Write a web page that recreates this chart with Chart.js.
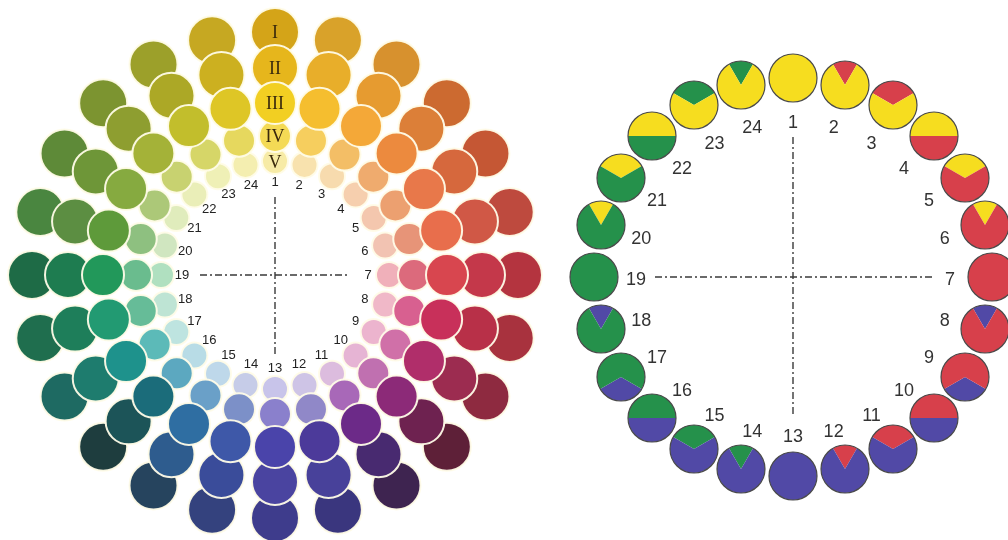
<!DOCTYPE html>
<html>
<head>
<meta charset="utf-8">
<script src="https://cdn.jsdelivr.net/npm/chart.js@4.4.1/dist/chart.umd.min.js"></script>
<style>
    body { margin: 0; background: #fff; overflow: hidden; }
    #stage { position: relative; width: 1008px; height: 540px; overflow: hidden; }
    #leftBox { position: absolute; left: 0; top: 0; width: 550px; height: 540px; }
    #rightBox { position: absolute; left: 550px; top: 0; width: 458px; height: 540px; }
    .mix { position: absolute; width: 52px; height: 52px; }
</style>
</head>
<body>
<div id="stage">
    <div id="leftBox"><canvas id="toneWheel"></canvas></div>
    <div id="rightBox"><canvas id="mixWheel"></canvas></div>
</div>
<script>
// ==========================================
// DATA
// ==========================================

const hueNumbers = [1, 2, 3, 4, 5, 6, 7, 8, 9, 10, 11, 12, 13, 14, 15, 16, 17, 18, 19, 20, 21, 22, 23, 24];
const toneRings = ['I', 'II', 'III', 'IV', 'V'];

// right wheel: base colour, wedge colour and wedge size (in sixths) per hue
const mixBase   = ['Y', 'Y', 'Y', 'R', 'R', 'R', 'R', 'R', 'R', 'B', 'B', 'B', 'B', 'B', 'B', 'B', 'G', 'G', 'G', 'G', 'G', 'G', 'Y', 'Y'];
const mixWedge  = ['Y', 'R', 'R', 'Y', 'Y', 'Y', 'R', 'B', 'B', 'R', 'R', 'R', 'B', 'G', 'G', 'G', 'B', 'B', 'G', 'Y', 'Y', 'Y', 'G', 'G'];
const mixSixths = [0, 1, 2, 3, 2, 1, 0, 1, 2, 3, 2, 1, 0, 1, 2, 3, 2, 1, 0, 1, 2, 3, 2, 1];
const wedgeAtBottom = [9, 17];

// ==========================================
// STYLE / LAYOUT
// ==========================================

const ringColors = [
    // I
    ['#D4A418', '#D9A22A', '#D7912E', '#CC6A30', '#C55734', '#BE4A3E', '#B4343F', '#A8323E', '#8E2A40', '#5E2038', '#3E2450', '#3A367E',
     '#3E3C8C', '#34427E', '#26445E', '#1E3D3E', '#1E6A62', '#1F6E4E', '#1E6B46', '#4A8640', '#5E8A38', '#7C9430', '#9CA02A', '#C6A822'],
    // II
    ['#E6B61C', '#E8AE2A', '#E69B30', '#DC7F38', '#D6683D', '#D05846', '#C4384A', '#B83048', '#9C2C50', '#6E2250', '#482A70', '#48419A',
     '#4A44A0', '#3A4C9A', '#2E5C8E', '#1C5458', '#1E7C6E', '#1E7E5A', '#1E7C50', '#5C8E42', '#6E9638', '#8E9E30', '#ACA826', '#CCB020'],
    // III
    ['#F2CF22', '#F5BE2F', '#F4A838', '#EC8A3E', '#E8784A', '#E86E4C', '#D8464F', '#C8305A', '#B02E6A', '#8C2A78', '#6C2A88', '#4C3A9A',
     '#4A44AA', '#3E58A8', '#2F6EA2', '#1B6C7A', '#1E928C', '#229A72', '#22985A', '#5E9A3A', '#86AA40', '#A4B238', '#C2BE2C', '#DEC626'],
    // IV
    ['#F4DA55', '#F6CE5E', '#F3BE66', '#EFAB6E', '#ECA070', '#E79478', '#DC6A7C', '#D86090', '#D070A8', '#C070B0', '#A868B8', '#9088C8',
     '#8A80CC', '#7C90C8', '#6AA0C8', '#5CA8C0', '#5CBAB8', '#66BC98', '#6ABC8E', '#8EC080', '#ACC878', '#C8D270', '#D6D668', '#E6D85E'],
    // V
    ['#F7EBA6', '#F8E2AE', '#F7DBAE', '#F6CFAE', '#F4C7AE', '#F2C3B2', '#F0B0BA', '#F0B8C8', '#ECB4CE', '#E6B4D4', '#DCBCDE', '#CEC4E6',
     '#C8C4EA', '#C6CCE8', '#BED8EA', '#B8DCE6', '#BEE4E0', '#BEE4D4', '#B0E0C0', '#D0E6C0', '#E0ECBC', '#EAEEB8', '#EFF0B6', '#F4EEB0']
];
const ringDistance = [243, 207, 172, 139, 114];
const ringRadius = [24, 23, 21, 16, 13];
const ringOrder = [3, 2, 1, 2, 3];   // III on top, I and V underneath

const mixColors = { Y: '#F6DD1F', R: '#D7404B', B: '#5149A6', G: '#25914B' };
const MIX_RING = 199;

Chart.defaults.animation = false;
Chart.defaults.events = [];

function hueAngle(i) {
    return i * 15 * Math.PI / 180;
}

// dash-dot cross as a line dataset
function crossLine(points) {
    return {
        type: 'line',
        data: points,
        borderColor: '#3a3a3a',
        borderWidth: 1.4,
        borderDash: [7, 3, 2, 3],
        pointRadius: 0,
        showLine: true,
        order: 0
    };
}

// numbers round the wheel, roman numerals down hue 1
const wheelText = {
    id: 'wheelText',
    afterDatasetsDraw(chart, args, opts) {
        const { ctx, scales: { x, y } } = chart;
        ctx.save();
        ctx.textAlign = 'center';
        ctx.textBaseline = 'middle';
        ctx.fillStyle = opts.color;
        ctx.font = opts.font;
        hueNumbers.forEach((n, i) => {
            const a = hueAngle(i);
            ctx.fillText(String(n),
                x.getPixelForValue(opts.radius * Math.sin(a)),
                y.getPixelForValue(opts.radius * Math.cos(a)) + opts.shift);
        });
        if (opts.roman) {
            ctx.fillStyle = '#3a2a0c';
            ctx.font = '18px "Liberation Serif", "DejaVu Serif", serif';
            toneRings.forEach((label, r) => {
                ctx.fillText(label, x.getPixelForValue(0), y.getPixelForValue(ringDistance[r]) + (r === 4 ? 2 : 1));
            });
        }
        ctx.restore();
    }
};

// ==========================================
// LEFT: tone wheel
// ==========================================

const toneDatasets = toneRings.map((ring, r) => ({
    label: ring,
    data: hueNumbers.map((h, i) => ({
        x: ringDistance[r] * Math.sin(hueAngle(i)),
        y: ringDistance[r] * Math.cos(hueAngle(i)),
        r: ringRadius[r]
    })),
    backgroundColor: ringColors[r],
    borderColor: 'rgba(255, 252, 232, 0.95)',
    borderWidth: 2,
    order: ringOrder[r]
}));

new Chart(document.getElementById('toneWheel'), {
    type: 'bubble',
    data: {
        datasets: toneDatasets.concat([
            crossLine([{ x: 0, y: 78 }, { x: 0, y: -80 }]),
            crossLine([{ x: -75, y: 0 }, { x: 75, y: 0 }])
        ])
    },
    options: {
        responsive: true,
        maintainAspectRatio: false,
        layout: { padding: 0, autoPadding: false },
        scales: {
            x: { type: 'linear', min: -275, max: 275, display: false },
            y: { type: 'linear', min: -265, max: 275, display: false }
        },
        plugins: {
            legend: { display: false },
            tooltip: { enabled: false },
            wheelText: { radius: 93, shift: 0, color: '#222', font: '13px "Liberation Sans", Arial, sans-serif', roman: true }
        }
    },
    plugins: [wheelText]
});

// ==========================================
// RIGHT: mixing wheel
// ==========================================

const mixChart = new Chart(document.getElementById('mixWheel'), {
    type: 'scatter',
    data: {
        datasets: [
            crossLine([{ x: 0, y: 140 }, { x: 0, y: -140 }]),
            crossLine([{ x: -138, y: 0 }, { x: 142, y: 0 }])
        ]
    },
    options: {
        responsive: true,
        maintainAspectRatio: false,
        layout: { padding: 0, autoPadding: false },
        scales: {
            x: { type: 'linear', min: -243, max: 215, display: false },
            y: { type: 'linear', min: -263, max: 277, display: false }
        },
        plugins: {
            legend: { display: false },
            tooltip: { enabled: false },
            wheelText: { radius: 157, shift: 3, color: '#333', font: '18px "Liberation Sans", Arial, sans-serif', roman: false }
        }
    },
    plugins: [wheelText]
});

// thin outline round each mixing disc
const rimPlugin = {
    id: 'rim',
    afterDatasetsDraw(chart) {
        const arc = chart.getDatasetMeta(0).data[0];
        const ctx = chart.ctx;
        ctx.save();
        ctx.beginPath();
        ctx.arc(arc.x, arc.y, arc.outerRadius, 0, Math.PI * 2);
        ctx.strokeStyle = '#4a4a4a';
        ctx.lineWidth = 1.2;
        ctx.stroke();
        ctx.restore();
    }
};

const stage = document.getElementById('stage');
hueNumbers.forEach((h, i) => {
    const a = hueAngle(i);
    const px = 550 + mixChart.scales.x.getPixelForValue(MIX_RING * Math.sin(a));
    const py = mixChart.scales.y.getPixelForValue(MIX_RING * Math.cos(a));

    const box = document.createElement('div');
    box.className = 'mix';
    box.style.left = (px - 26) + 'px';
    box.style.top = (py - 26) + 'px';
    const canvas = document.createElement('canvas');
    box.appendChild(canvas);
    stage.appendChild(box);

    const share = mixSixths[i];
    const bottom = wedgeAtBottom.includes(h);
    new Chart(canvas, {
        type: 'pie',
        data: {
            labels: [mixWedge[i], mixBase[i]],
            datasets: [{
                data: [share, 6 - share],
                backgroundColor: [mixColors[mixWedge[i]], mixColors[mixBase[i]]],
                borderWidth: 0
            }]
        },
        options: {
            responsive: true,
            maintainAspectRatio: false,
            rotation: (bottom ? 180 : 0) - share * 30,
            layout: { padding: 2 },
            plugins: { legend: { display: false }, tooltip: { enabled: false } }
        },
        plugins: [rimPlugin]
    });
});
</script>
</body>
</html>
